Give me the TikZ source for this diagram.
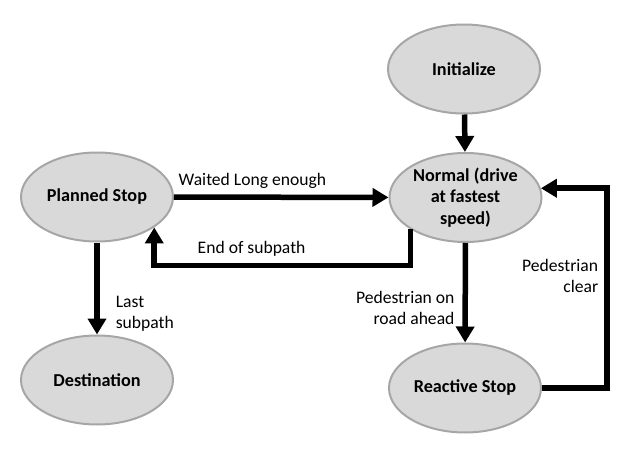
\documentclass[tikz,border=0pt]{standalone}
\usepackage{fontspec}
\setmainfont{Carlito}
\usetikzlibrary{arrows.meta,shapes.geometric}

\begin{document}
\begin{tikzpicture}[x=1pt,y=-1pt,
	state/.style={ellipse,draw=black!35,line width=2pt,fill=black!15,
		minimum width=152pt,minimum height=89pt,inner sep=0pt,align=center,
		font=\bfseries\fontsize{18.2}{21.5}\selectfont},
	trans/.style={line width=5.5pt,-{Triangle[length=16pt,width=18pt]}},
	lbl/.style={inner sep=0pt,font=\fontsize{17.6}{21}\selectfont}]
	\useasboundingbox (0,0) rectangle (638,452);

	\node[state] (init) at (464,69) {Initialize};
	\node[state] (normal) at (465.5,197.5) {Normal (drive\\at fastest\\speed)};
	\node[state] (planned) at (97,197) {Planned Stop};
	\node[state] (dest) at (97,380) {Destination};
	\node[state] (reactive) at (465,388) {Reactive Stop};

	\draw[trans] (init) -- (normal);
	\draw[trans] (planned) -- node[lbl,pos=0,anchor=south west,xshift=2pt,yshift=5.5pt] {Waited Long enough} (normal);
	\draw[trans] (normal.210) |- node[lbl,pos=0.81,above=6pt] {End of subpath} ([yshift=-38pt]planned.-28) -- (planned.-28);
	\draw[trans] (planned) -- node[lbl,pos=0.78,right=16pt,align=left] {Last\\subpath} (dest);
	\draw[trans] (normal) -- node[lbl,pos=0.65,left=8pt,align=right] {Pedestrian on\\road ahead} (reactive);
	\draw[trans] (reactive.east) -| node[lbl,pos=0.78,left=6pt,align=right] {Pedestrian\\clear} ([xshift=66pt]normal.7) -- (normal.7);
\end{tikzpicture}
\end{document}
